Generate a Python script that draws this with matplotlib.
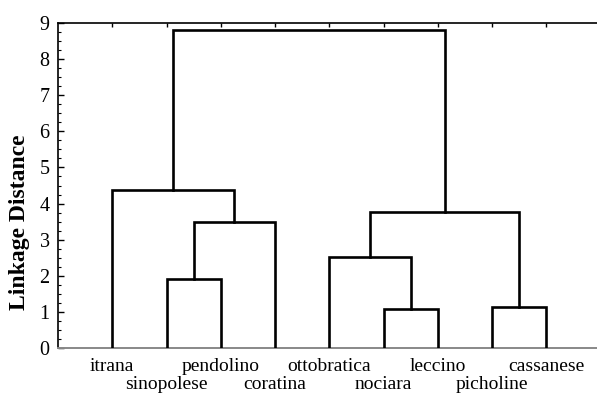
import numpy as np
import matplotlib.pyplot as plt
from matplotlib.ticker import MultipleLocator

# leaves of the tree, left to right
cultivars = ['itrana', 'sinopolese', 'pendolino', 'coratina', 'ottobratica',
             'nociara', 'leccino', 'picholine', 'cassanese']

# merge table: node a, node b, linkage distance (new nodes numbered from 9)
merge_a = [1, 5, 7, 9, 4, 0, 13, 14]
merge_b = [2, 6, 8, 3, 10, 12, 11, 15]
merge_h = [1.91, 1.08, 1.14, 3.49, 2.52, 4.38, 3.77, 8.80]

plt.rcParams['font.family'] = 'Liberation Serif'

fig = plt.figure(figsize=(5.97, 3.97), dpi=100)
ax = fig.add_axes([0.0972, 0.1234, 0.9028, 0.8186])

n = len(cultivars)
xpos = list(np.arange(1, n + 1, dtype=float))
ypos = [0.0] * n
for a, b, h in zip(merge_a, merge_b, merge_h):
    xa, xb = xpos[a], xpos[b]
    ax.plot([xa, xa, xb, xb], [ypos[a], h, h, ypos[b]],
            color='black', lw=1.9, solid_joinstyle='miter', zorder=3)
    xpos.append((xa + xb) / 2)
    ypos.append(h)

ax.set_xlim(0, 9.935)
ax.set_ylim(0, 9)

ax.set_xticks(np.arange(1, n + 1))
ax.set_xticklabels(cultivars, fontsize=14)
ax.tick_params(axis='x', bottom=False, top=True, direction='in', length=3,
               width=1, pad=7)
for i, t in enumerate(ax.xaxis.get_major_ticks()):
    if i % 2 == 1:
        t.set_pad(20)

ax.yaxis.set_major_locator(MultipleLocator(1))
ax.yaxis.set_minor_locator(MultipleLocator(0.25))
ax.tick_params(axis='y', which='major', direction='in', length=4, width=1,
               labelsize=14.5, pad=6)
ax.tick_params(axis='y', which='minor', direction='in', length=2.5, width=0.8)

ax.spines['right'].set_visible(False)
ax.spines['bottom'].set_color('#888888')
ax.spines['bottom'].set_linewidth(1.4)
ax.spines['left'].set_linewidth(1.2)
ax.spines['top'].set_linewidth(1.2)

ax.set_ylabel('Linkage Distance', fontsize=17, fontweight='bold')
ax.yaxis.set_label_coords(-0.052, 0.388)

fig.savefig('out.png', dpi=100)
